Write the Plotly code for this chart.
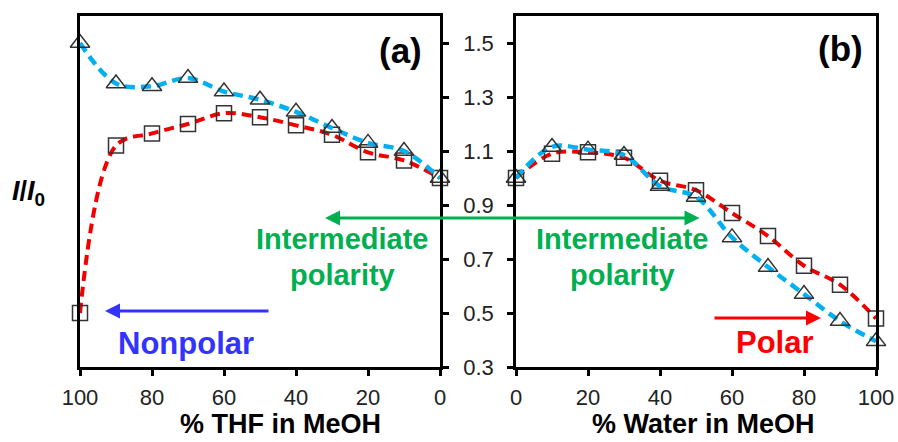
import plotly.graph_objects as go

# ---- data ----
thf_x = [100, 90, 80, 70, 60, 50, 40, 30, 20, 10, 0]
thf_tri = [1.50, 1.35, 1.34, 1.37, 1.32, 1.29, 1.245, 1.185, 1.13, 1.10, 1.00]
thf_sq = [0.50, 1.12, 1.165, 1.20, 1.24, 1.225, 1.195, 1.16, 1.095, 1.065, 1.00]

water_x = [0, 10, 20, 30, 40, 50, 60, 70, 80, 90, 100]
water_tri = [1.00, 1.115, 1.105, 1.085, 0.97, 0.93, 0.78, 0.67, 0.57, 0.47, 0.395]
water_sq = [1.00, 1.09, 1.095, 1.075, 0.99, 0.955, 0.87, 0.785, 0.675, 0.605, 0.48]

y_ticks = [0.3, 0.5, 0.7, 0.9, 1.1, 1.3, 1.5]
x_ticks = [0, 20, 40, 60, 80, 100]

W, H = 898, 442
BLUE = "#00B0F0"
RED = "#F20000"
GREEN = "#00B050"
FONT = "Liberation Sans, Arial, sans-serif"


def px(x):
    return x / W


def py(y):
    return 1 - y / H


fig = go.Figure()


def add_series(x, y, color, symbol, size, xa, ya, width):
    fig.add_trace(go.Scatter(
        x=x, y=y, mode="lines", xaxis=xa, yaxis=ya,
        line=dict(color=color, width=width, dash="10px,6px", shape="spline", smoothing=1.0),
        showlegend=False, hoverinfo="skip"))
    fig.add_trace(go.Scatter(
        x=x, y=y, mode="markers", xaxis=xa, yaxis=ya,
        marker=dict(symbol=symbol, size=size, color="rgba(0,0,0,0)",
                    line=dict(color="#333333", width=1.5)),
        showlegend=False, cliponaxis=False))


add_series(thf_x, thf_sq, RED, "square", 15, "x", "y", 4)
add_series(thf_x, thf_tri, BLUE, "triangle-up", 17, "x", "y", 4.5)
add_series(water_x, water_sq, RED, "square", 15, "x2", "y2", 4)
add_series(water_x, water_tri, BLUE, "triangle-up", 17, "x2", "y2", 4.5)

axis_common = dict(showgrid=False, zeroline=False, showline=True, linecolor="black",
                   linewidth=2.5, mirror=True, ticks="outside", ticklen=6, tickwidth=2.5,
                   tickcolor="black", automargin=False,
                   tickfont=dict(family=FONT, size=22, color="#222222"))

ydom = [py(367), py(16)]

fig.update_layout(
    width=W, height=H,
    margin=dict(l=0, r=0, t=0, b=0),
    paper_bgcolor="white", plot_bgcolor="white",
    xaxis=dict(domain=[px(80), px(440)], range=[100, 0], tickvals=x_ticks, anchor="y",
               ticklabelstandoff=3, **axis_common),
    xaxis2=dict(domain=[px(516), px(876)], range=[0, 100], tickvals=x_ticks, anchor="y2",
                ticklabelstandoff=3, **axis_common),
    yaxis=dict(domain=ydom, range=[0.3, 1.6], tickvals=y_ticks, ticktext=[f"{v:.1f}" for v in y_ticks],
               side="right", anchor="x", ticklabelstandoff=10, **axis_common),
    yaxis2=dict(domain=ydom, range=[0.3, 1.6], tickvals=y_ticks, side="left", anchor="x2",
                showticklabels=False, **axis_common),
)

anns = []


def text(x, y, t, size, color="black", bold=True):
    anns.append(dict(x=px(x), y=py(y), xref="paper", yref="paper", text=(f"<b>{t}</b>" if bold else t),
                     showarrow=False, xanchor="center", yanchor="middle",
                     font=dict(family=FONT, size=size, color=color)))


def arrow(x_head, y_head, x_tail, y_tail, color, both=False):
    anns.append(dict(x=px(x_head), y=py(y_head), xref="paper", yref="paper",
                     ax=x_tail - x_head, ay=y_tail - y_head, axref="pixel", ayref="pixel",
                     text="", showarrow=True, arrowhead=2, arrowsize=1, arrowwidth=3,
                     arrowcolor=color, standoff=0, startstandoff=0,
                     arrowside="end+start" if both else "end", startarrowhead=2, startarrowsize=1))


text(400, 50, "(a)", 35)
text(840, 48, "(b)", 35)
anns.append(dict(x=px(28), y=py(193), xref="paper", yref="paper",
                 text="<b><i>I</i>/<i>I</i><sub>0</sub></b>", showarrow=False,
                 xanchor="center", yanchor="middle", font=dict(family=FONT, size=27, color="black")))
text(280, 424, "% THF in MeOH", 27)
text(703, 424, "% Water in MeOH", 27)

arrow(105, 311, 270, 311, "#3333FF")
text(186, 343, "Nonpolar", 31, "#3333FF")

arrow(325, 218, 701, 218, GREEN, both=True)
text(342, 239, "Intermediate", 29, GREEN)
text(342, 275, "polarity", 29, GREEN)
text(622, 239, "Intermediate", 29, GREEN)
text(622, 275, "polarity", 29, GREEN)

arrow(821, 318, 713, 318, "#FF0000")
text(775, 342, "Polar", 31, "#FF0000")

fig.update_layout(annotations=anns)

fig.write_html(
    "out.html",
    config={"displayModeBar": False},
    post_script="document.body.style.margin='0';document.documentElement.style.overflow='hidden';document.body.style.overflow='hidden';",
)
